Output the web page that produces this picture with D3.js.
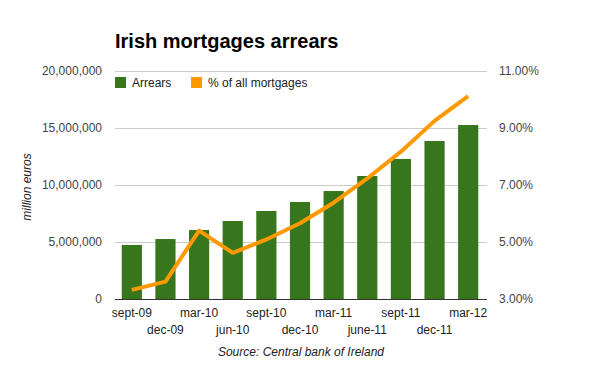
<!DOCTYPE html>
<html>
<head>
<meta charset="utf-8">
<script src="https://cdn.jsdelivr.net/npm/d3@7"></script>
<style>
  body { margin: 0; background: #fff; }
  text { font-family: Arial, "Liberation Sans", sans-serif; }
</style>
</head>
<body>
<svg id="chart" width="600" height="371"></svg>
<script>
const quarters = ["sept-09", "dec-09", "mar-10", "jun-10", "sept-10", "dec-10",
    "mar-11", "june-11", "sept-11", "dec-11", "mar-12"];
const arrears = [4740000, 5260000, 6050000, 6840000, 7720000, 8510000,
    9470000, 10790000, 12280000, 13860000, 15260000];
const pctMortgages = [3.32, 3.61, 5.40, 4.62, 5.09, 5.66, 6.38, 7.23, 8.17, 9.25, 10.12];
const leftTicks = [0, 5000000, 10000000, 15000000, 20000000];
const rightTicks = [3, 5, 7, 9, 11];

const svg = d3.select("#chart");
const plotLeft = 115, plotRight = 485, plotTop = 71, plotBottom = 299;

const x = d3.scaleBand().domain(quarters).range([plotLeft, plotRight]).paddingInner(0.4).paddingOuter(0.2);
const yL = d3.scaleLinear().domain([0, 20000000]).range([plotBottom, plotTop]);
const yR = d3.scaleLinear().domain([3, 11]).range([plotBottom, plotTop]);

// gridlines
svg.append("g")
    .selectAll("line")
    .data(leftTicks.slice(1))
    .enter().append("line")
    .attr("x1", plotLeft).attr("x2", plotRight + 2)
    .attr("y1", d => Math.round(yL(d)) + 0.5).attr("y2", d => Math.round(yL(d)) + 0.5)
    .attr("stroke", "#cccccc").attr("stroke-width", 1);

// left axis labels
svg.append("g")
    .selectAll("text")
    .data(leftTicks)
    .enter().append("text")
    .attr("x", 102).attr("y", d => yL(d) + 4)
    .attr("text-anchor", "end")
    .attr("font-size", 12).attr("fill", "#444")
    .text(d => d3.format(",")(d));

// right axis labels
svg.append("g")
    .selectAll("text")
    .data(rightTicks)
    .enter().append("text")
    .attr("x", 499).attr("y", d => yR(d) + 4)
    .attr("font-size", 12).attr("fill", "#444")
    .text(d => d.toFixed(2) + "%");

// bars
svg.append("g")
    .selectAll("rect")
    .data(arrears)
    .enter().append("rect")
    .attr("x", (d, i) => x(quarters[i]))
    .attr("width", x.bandwidth())
    .attr("y", d => yL(d))
    .attr("height", d => plotBottom - yL(d))
    .attr("fill", "#38761d");

// baseline
svg.append("line")
    .attr("x1", plotLeft).attr("x2", plotRight + 2)
    .attr("y1", plotBottom + 0.5).attr("y2", plotBottom + 0.5)
    .attr("stroke", "#333").attr("stroke-width", 1);

// line
const line = d3.line()
    .x((d, i) => x(quarters[i]) + x.bandwidth() / 2)
    .y(d => yR(d));

svg.append("path")
    .datum(pctMortgages)
    .attr("d", line)
    .attr("fill", "none")
    .attr("stroke", "#ff9900")
    .attr("stroke-width", 4)
    .attr("stroke-linejoin", "round");

// x labels, alternating rows
svg.append("g")
    .selectAll("text")
    .data(quarters)
    .enter().append("text")
    .attr("x", d => x(d) + x.bandwidth() / 2)
    .attr("y", (d, i) => i % 2 === 0 ? 317 : 334)
    .attr("text-anchor", "middle")
    .attr("font-size", 12).attr("fill", "#222")
    .text(d => d);

// title
svg.append("text")
    .attr("x", 115).attr("y", 48)
    .attr("font-size", 20).attr("font-weight", "bold").attr("fill", "#000")
    .text("Irish mortgages arrears");

// legend
const legend = [
    { label: "Arrears", color: "#38761d", x: 115 },
    { label: "% of all mortgages", color: "#ff9900", x: 191 }
];
const lg = svg.append("g").selectAll("g").data(legend).enter().append("g");
lg.append("rect")
    .attr("x", d => d.x).attr("y", 77)
    .attr("width", 11).attr("height", 11)
    .attr("fill", d => d.color);
lg.append("text")
    .attr("x", d => d.x + 17).attr("y", 87)
    .attr("font-size", 12).attr("fill", "#222")
    .text(d => d.label);

// y axis title
svg.append("text")
    .attr("transform", "translate(31,187) rotate(-90)")
    .attr("text-anchor", "middle")
    .attr("font-size", 12).attr("font-style", "italic").attr("fill", "#222")
    .text("million euros");

// source
svg.append("text")
    .attr("x", 301).attr("y", 356)
    .attr("text-anchor", "middle")
    .attr("font-size", 12).attr("font-style", "italic").attr("fill", "#222")
    .text("Source: Central bank of Ireland");
</script>
</body>
</html>
